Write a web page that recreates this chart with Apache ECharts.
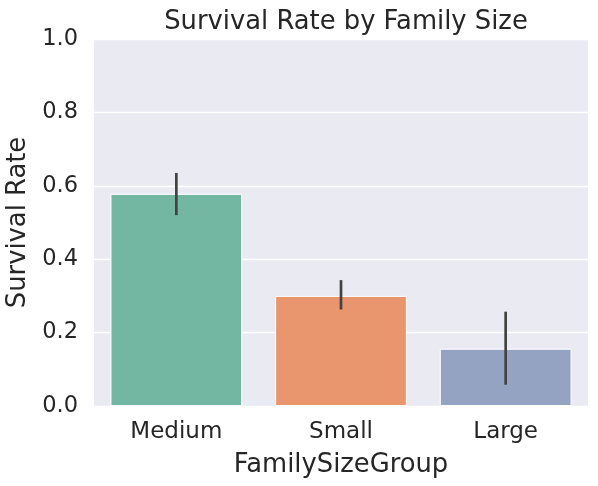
<!DOCTYPE html>
<html>
<head>
<meta charset="utf-8">
<script src="https://cdn.jsdelivr.net/npm/echarts@6/dist/echarts.min.js"></script>
<style>
  html, body { margin: 0; padding: 0; background: #fff; }
  #chart { width: 598px; height: 486px; }
</style>
</head>
<body>
<div id="chart"></div>
<script>
var groups = ['Medium', 'Small', 'Large'];
var survival = [0.578, 0.300, 0.156];
var ciLow = [0.520, 0.263, 0.058];
var ciHigh = [0.635, 0.343, 0.257];
var barColors = ['#73b6a1', '#e9956e', '#95a3c3'];
var yTicks = [0, 0.2, 0.4, 0.6, 0.8, 1.0];

var chart = echarts.init(document.getElementById('chart'));
var font = 'DejaVu Sans';

var option = {
  backgroundColor: '#ffffff',
  animation: false,
  title: {
    text: 'Survival Rate by Family Size',
    left: 341, top: 4,
    textAlign: 'center',
    textStyle: { fontFamily: font, fontSize: 25.8, fontWeight: 'normal', color: '#262626' }
  },
  grid: {
    left: 94, right: 10, top: 39, bottom: 80,
    outerBoundsMode: 'none', containLabel: false,
    show: true, backgroundColor: '#eaeaf2', borderWidth: 0
  },
  xAxis: {
    type: 'category',
    data: groups,
    name: 'FamilySizeGroup',
    nameLocation: 'middle',
    nameGap: 46,
    nameTextStyle: { fontFamily: font, fontSize: 25.8, color: '#262626' },
    axisLine: { show: false },
    axisTick: { show: false },
    axisLabel: { fontFamily: font, fontSize: 23, color: '#262626', margin: 15 },
    splitLine: { show: false }
  },
  yAxis: {
    type: 'value',
    min: 0, max: 1, interval: 0.2,
    name: 'Survival Rate',
    nameLocation: 'middle',
    nameGap: 57,
    nameTextStyle: { fontFamily: font, fontSize: 25.8, color: '#262626' },
    axisLine: { show: false },
    axisTick: { show: false },
    axisLabel: {
      fontFamily: font, fontSize: 22.5, color: '#262626', margin: 16,
      formatter: function (v) { return v.toFixed(1); }
    },
    splitLine: { lineStyle: { color: '#ffffff', width: 1.3 } }
  },
  series: [
    {
      type: 'bar',
      data: survival.map(function (v, i) {
        return { value: v, itemStyle: { color: barColors[i] } };
      }),
      barCategoryGap: '20%',
      itemStyle: { borderColor: '#ffffff', borderWidth: 1 }
    },
    {
      type: 'custom',
      data: groups.map(function (g, i) { return [i, ciLow[i], ciHigh[i]]; }),
      renderItem: function (params, api) {
        var lo = api.coord([api.value(0), api.value(1)]);
        var hi = api.coord([api.value(0), api.value(2)]);
        return {
          type: 'line',
          shape: { x1: lo[0], y1: lo[1], x2: hi[0], y2: hi[1] },
          style: { stroke: '#424242', lineWidth: 2.7, lineCap: 'butt' }
        };
      },
      z: 5
    }
  ]
};

chart.setOption(option);
</script>
</body>
</html>
